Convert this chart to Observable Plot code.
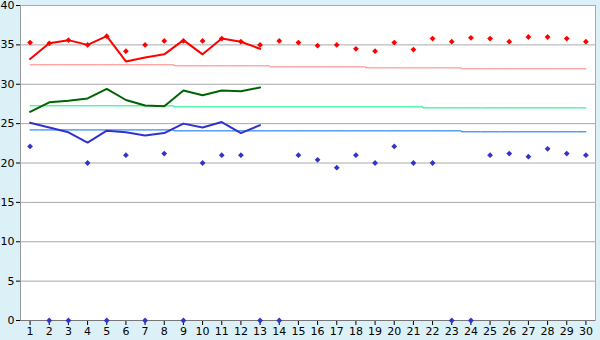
<!DOCTYPE html>
<html><head><meta charset="utf-8">
<script src="https://cdn.jsdelivr.net/npm/d3@7"></script>
<script src="https://cdn.jsdelivr.net/npm/@observablehq/plot@0.6"></script>
<style>
html,body{margin:0;padding:0;background:#DCF0F7;}
</style></head><body><div id="chart"></div>
<script>
const days = d3.range(1, 31);
const yTicks = [0,5,10,15,20,25,30,35,40];

const redLine   = [33.2,35.2,35.6,35.0,36.1,32.9,33.4,33.8,35.6,33.8,35.8,35.4,34.5];
const greenLine = [26.5,27.7,27.9,28.2,29.4,28.0,27.3,27.2,29.2,28.6,29.2,29.1,29.6];
const blueLine  = [25.1,24.5,23.9,22.6,24.1,23.9,23.5,23.8,25.0,24.5,25.2,23.8,24.8];

const redPts  = [35.3,35.2,35.6,35.0,36.1,34.2,35.0,35.5,35.5,35.5,35.8,35.4,35.0,35.5,35.3,
                 34.9,35.0,34.5,34.2,35.3,34.4,35.8,35.4,35.9,35.8,35.4,36.0,36.0,35.8,35.4];
const bluePts = [22.1,0,0,20.0,0,21.0,0,21.2,0,20.0,21.0,21.0,0,0,21.0,
                 20.4,19.4,21.0,20.0,22.1,20.0,20.0,0,0,21.0,21.2,20.8,21.8,21.2,21.0];

const redAvg   = [32.47,32.47,32.47,32.47,32.47,32.47,32.47,32.47,32.34,32.34,32.34,32.34,32.34,
                  32.21,32.21,32.21,32.21,32.21,32.08,32.08,32.08,32.08,32.08,
                  31.96,31.96,31.96,31.96,31.96,31.96,31.96];
const greenAvg = [27.26,27.26,27.26,27.26,27.26,27.26,27.26,27.26,
                  27.13,27.13,27.13,27.13,27.13,27.13,27.13,27.13,27.13,27.13,27.13,27.13,27.13,
                  27.0,27.0,27.0,27.0,27.0,27.0,27.0,27.0,27.0];
const blueAvg  = [24.2,24.2,24.2,24.2,24.2,24.2,24.2,24.2,
                  24.08,24.08,24.08,24.08,24.08,24.08,24.08,24.08,24.08,24.08,24.08,24.08,24.08,24.08,24.08,
                  23.96,23.96,23.96,23.96,23.96,23.96,23.96];

const mk = arr => arr.map((v,i) => ({day: i+1, v}));

const chart = Plot.plot({
  width: 600, height: 340,
  marginLeft: 20, marginRight: 5, marginTop: 5, marginBottom: 20,
  style: {background: "#DCF0F7", fontFamily: "DejaVu Sans, Verdana, sans-serif", fontSize: "11px", color: "black"},
  x: {domain: [0.5, 30.5], axis: null},
  y: {domain: [0, 40], axis: null},
  marks: [
    Plot.frame({fill: "white", stroke: "#AAAAAA"}),
    Plot.gridY(yTicks, {stroke: "#AAAAAA", strokeOpacity: 1, strokeWidth: 1}),
    Plot.axisX(days, {tickSize: 5, tickPadding: 2, stroke: "black", tickFormat: d => d, fontSize: 11, fill: "black", label: null}),
    Plot.axisY(yTicks, {tickSize: 4, tickPadding: 2, stroke: "black", fontSize: 11, fill: "black", label: null}),
    Plot.ruleX([0.5], {stroke: "#999999"}),
    Plot.ruleY([0], {stroke: "#777777"}),
    Plot.line(mk(redAvg),   {x: "day", y: "v", curve: "step", stroke: "#FF8080", strokeWidth: 1}),
    Plot.line(mk(greenAvg), {x: "day", y: "v", curve: "step", stroke: "#00F080", strokeWidth: 1}),
    Plot.line(mk(blueAvg),  {x: "day", y: "v", curve: "step", stroke: "#0070F0", strokeWidth: 1}),
    Plot.line(mk(redLine),   {x: "day", y: "v", stroke: "#FF0000", strokeWidth: 2}),
    Plot.line(mk(greenLine), {x: "day", y: "v", stroke: "#006400", strokeWidth: 2}),
    Plot.line(mk(blueLine),  {x: "day", y: "v", stroke: "#3333CC", strokeWidth: 2}),
    Plot.dot(mk(redPts),  {x: "day", y: "v", symbol: "diamond2", r: 2.6, fill: "#FF0000", stroke: "none"}),
    Plot.dot(mk(bluePts), {x: "day", y: "v", symbol: "diamond2", r: 2.6, fill: "#3333CC", stroke: "none"})
  ]
});
document.getElementById("chart").appendChild(chart);
</script></body></html>
